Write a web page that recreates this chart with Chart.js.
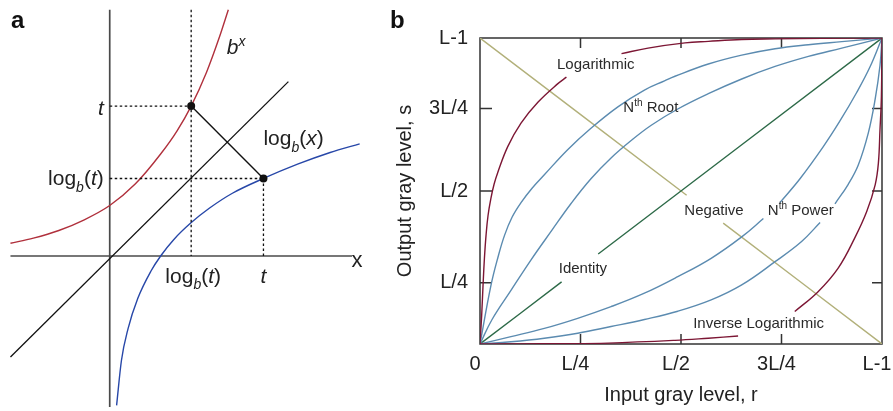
<!DOCTYPE html>
<html>
<head>
<meta charset="utf-8">
<script src="https://cdn.jsdelivr.net/npm/chart.js@4.4.1/dist/chart.umd.min.js"></script>
<style>
  html, body { margin: 0; padding: 0; background: #fff; }
  #wrap { position: relative; width: 893px; height: 411px; }
  #chartA { position: absolute; left: 0; top: 0; }
  #chartB { position: absolute; left: 380px; top: 0; }
</style>
</head>
<body>
<div id="wrap">
  <canvas id="chartA" width="380" height="411"></canvas>
  <canvas id="chartB" width="513" height="411"></canvas>
</div>
<script>
// ---- panel a : b^x and log_b(x), units where b^0 = 1
const expX = [-1.95, -1.5, -1.0, -0.5, 0.0, 0.5, 1.0, 1.32, 1.6, 1.9, 2.15, 2.33];
const expY = [0.25, 0.35, 0.5, 0.71, 0.99, 1.41, 2.0, 2.45, 2.94, 3.6, 4.28, 4.83];
const logX = [0.135, 0.23, 0.359, 0.552, 0.808, 1.0, 1.256, 1.596, 1.962, 2.41, 3.02, 3.69, 4.33, 4.91];
const logY = [-2.93, -2.05, -1.43, -0.83, -0.3, 0.0, 0.32, 0.65, 0.94, 1.23, 1.52, 1.8, 2.03, 2.2];
const identX = [-1.95, 3.51];
const identY = [-1.98, 3.42];
const dotX = [1.6, 3.02];     // (log_b t, t) and (t, log_b t)
const dotY = [2.94, 1.52];
const axisSpanX = [-1.95, 4.76];
const axisSpanY = [-2.96, 4.83];

// ---- panel b : gray level transformations (r, s normalised to 0..1, null = label gap)
const tickLabels = ['0', 'L/4', 'L/2', '3L/4', 'L-1'];
const xTickPos = [0, 0.25, 0.5, 0.75, 1];
const yTickPos = [0, 0.2, 0.5, 0.77, 1];

const negR = [0, 0.514, 0.56, 0.605, 1];
const negS = [1, 0.486, null, 0.395, 0];
const idR = [0, 0.203, 0.25, 0.294, 1];
const idS = [0, 0.203, null, 0.294, 1];
const logTR = [0, 0.004, 0.0075, 0.011, 0.015, 0.02, 0.027, 0.035, 0.044, 0.069, 0.102, 0.144, 0.193, 0.215, 0.28, 0.352, 0.418, 0.51, 0.568, 0.651, 0.734, 0.85, 1];
const logTS = [0, 0.09, 0.19, 0.28, 0.355, 0.42, 0.475, 0.522, 0.56, 0.645, 0.722, 0.79, 0.85, 0.872, null, 0.949, 0.967, 0.984, 0.989, 0.995, 0.997, 0.999, 1];
const invR = [0, 0.1, 0.2, 0.319, 0.485, 0.568, 0.642, 0.7, 0.783, 0.841, 0.891, 0.932, 0.962, 0.983, 0.991, 0.995, 0.9985, 1];
const invS = [0, 0.0005, 0.001, 0.003, 0.012, 0.019, 0.026, null, 0.106, 0.171, 0.248, 0.346, 0.433, 0.52, 0.591, 0.7, 0.809, 1];
const root1R = [0, 0.027, 0.045, 0.061, 0.08, 0.102, 0.13, 0.16, 0.218, 0.276, 0.343, 0.409, 0.459, 0.485, 0.568, 0.651, 0.734, 0.817, 0.9, 1];
const root1S = [0, 0.19, 0.285, 0.355, 0.415, 0.462, 0.51, 0.553, 0.635, 0.705, 0.775, 0.83, 0.86, 0.875, 0.915, 0.944, 0.965, 0.978, 0.988, 1];
const root2R = [0, 0.03, 0.077, 0.127, 0.179, 0.227, 0.276, 0.326, 0.376, 0.426, 0.492, 0.568, 0.651, 0.734, 0.817, 0.9, 1];
const root2S = [0, 0.08, 0.175, 0.275, 0.372, 0.46, 0.54, 0.608, 0.665, 0.715, 0.768, 0.818, 0.866, 0.907, 0.94, 0.967, 1];
const pow1R = [0, 0.077, 0.16, 0.243, 0.326, 0.409, 0.492, 0.575, 0.651, 0.705, 0.725, 0.746, 0.796, 0.854, 0.895, 0.937, 0.97, 1];
const pow1S = [0, 0.024, 0.051, 0.084, 0.122, 0.166, 0.22, 0.28, 0.35, 0.41, null, 0.462, 0.54, 0.645, 0.728, 0.822, 0.905, 1];
const pow2R = [0, 0.077, 0.16, 0.243, 0.326, 0.409, 0.492, 0.575, 0.651, 0.734, 0.8, 0.846, 0.865, 0.883, 0.916, 0.941, 0.966, 0.983, 0.995, 1];
const pow2S = [0, 0.0075, 0.019, 0.035, 0.057, 0.08, 0.107, 0.144, 0.193, 0.269, 0.335, 0.397, null, 0.458, 0.522, 0.585, 0.69, 0.8, 0.91, 1];

const FONT = '"Liberation Sans", Arial, Helvetica, sans-serif';
const toPts = (xs, ys) => xs.map((x, i) => ({ x: x, y: ys[i] }));

// draws text made of pieces: [text, style] where style may hold 'i', 'sub', 'sup'
function drawRich(ctx, parts, x, y, align, size, color) {
  let total = 0;
  const spec = parts.map(function(p) {
    const st = p[1] || '';
    const small = st.indexOf('sub') >= 0 || st.indexOf('sup') >= 0;
    const sz = small ? Math.round(size * 0.68) : size;
    const f = (st.indexOf('i ') >= 0 || st === 'i' ? 'italic ' : '') + sz + 'px ' + FONT;
    ctx.font = f;
    const w = ctx.measureText(p[0]).width;
    total += w;
    let dy = 0;
    if (st.indexOf('sub') >= 0) dy = size * 0.3;
    if (st.indexOf('sup') >= 0) dy = -size * 0.38;
    return { txt: p[0], f: f, w: w, dy: dy };
  });
  let cx = align === 'right' ? x - total : (align === 'center' ? x - total / 2 : x);
  ctx.save();
  ctx.fillStyle = color || '#222';
  ctx.textAlign = 'left';
  ctx.textBaseline = 'alphabetic';
  spec.forEach(function(s) {
    ctx.font = s.f;
    ctx.fillText(s.txt, cx, y + s.dy);
    cx += s.w;
  });
  ctx.restore();
}

function lineSet(data, color, width, dash) {
  return {
    data: data, showLine: true, borderColor: color, borderWidth: width,
    borderDash: dash || [], pointRadius: 0, fill: false, tension: 0
  };
}

// ---------------- panel a ----------------
const textA = {
  id: 'textA',
  afterDatasetsDraw: function(chart) {
    const ctx = chart.ctx;
    const sx = chart.scales.x, sy = chart.scales.y;
    const F = 21;
    ctx.save();
    ctx.font = 'bold 24px ' + FONT;
    ctx.fillStyle = '#111';
    ctx.fillText('a', 11, 28);
    ctx.restore();
    drawRich(ctx, [['b', 'i '], ['x', 'i sup']], sx.getPixelForValue(2.3), sy.getPixelForValue(4.0) + 2, 'left', F);
    drawRich(ctx, [['t', 'i ']], sx.getPixelForValue(0) - 6, sy.getPixelForValue(dotY[0]) + 9, 'right', F);
    drawRich(ctx, [['log'], ['b', 'i sub'], ['('], ['t', 'i '], [')']],
      sx.getPixelForValue(0) - 6, sy.getPixelForValue(dotY[1]) + 7, 'right', F);
    drawRich(ctx, [['log'], ['b', 'i sub'], ['('], ['t', 'i '], [')']],
      sx.getPixelForValue(dotX[0]) + 2, sy.getPixelForValue(0) + 27, 'center', F);
    drawRich(ctx, [['t', 'i ']], sx.getPixelForValue(dotX[1]), sy.getPixelForValue(0) + 27, 'center', F);
    drawRich(ctx, [['log'], ['b', 'i sub'], ['('], ['x', 'i '], [')']],
      sx.getPixelForValue(dotX[1]), sy.getPixelForValue(dotY[1]) - 33, 'left', F);
    drawRich(ctx, [['x']], sx.getPixelForValue(axisSpanX[1]) + 5, sy.getPixelForValue(0) + 11, 'center', 22);
  }
};

new Chart(document.getElementById('chartA').getContext('2d'), {
  type: 'scatter',
  data: {
    datasets: [
      { data: toPts(dotX, dotY), pointRadius: 4, pointBackgroundColor: '#111', pointBorderWidth: 0, showLine: false },
      lineSet(toPts(dotX, dotY), '#111', 1.4),
      lineSet([{ x: dotX[0], y: axisSpanY[1] }, { x: dotX[0], y: 0 }], '#111', 1.3, [2.5, 2.5]),
      lineSet([{ x: 0, y: dotY[0] }, { x: dotX[0], y: dotY[0] }], '#111', 1.3, [2.5, 2.5]),
      lineSet([{ x: 0, y: dotY[1] }, { x: dotX[1], y: dotY[1] }], '#111', 1.3, [2.5, 2.5]),
      lineSet([{ x: dotX[1], y: dotY[1] }, { x: dotX[1], y: 0 }], '#111', 1.3, [2.5, 2.5]),
      Object.assign(lineSet(toPts(expX, expY), '#b0303c', 1.4), { cubicInterpolationMode: 'monotone' }),
      Object.assign(lineSet(toPts(logX, logY), '#2747a8', 1.4), { cubicInterpolationMode: 'monotone' }),
      lineSet(toPts(identX, identY), '#111', 1.3),
      lineSet([{ x: axisSpanX[0], y: 0 }, { x: axisSpanX[1], y: 0 }], '#4a4a4a', 1.7),
      lineSet([{ x: 0, y: axisSpanY[0] }, { x: 0, y: axisSpanY[1] }], '#4a4a4a', 1.7)
    ]
  },
  options: {
    responsive: false,
    animation: false,
    layout: { padding: 0 },
    plugins: { legend: { display: false }, tooltip: { enabled: false } },
    scales: {
      x: { type: 'linear', display: false, min: -2.077, max: 5.231 },
      y: { type: 'linear', display: false, min: -2.962, max: 4.942 }
    }
  },
  plugins: [textA]
});

// ---------------- panel b ----------------
const frameB = {
  id: 'frameB',
  beforeDatasetsDraw: function(chart) {
    const ctx = chart.ctx, a = chart.chartArea;
    const sx = chart.scales.x, sy = chart.scales.y;
    ctx.save();
    ctx.strokeStyle = '#333';
    ctx.lineWidth = 1.5;
    ctx.strokeRect(a.left, a.top, a.right - a.left, a.bottom - a.top);
    ctx.beginPath();
    xTickPos.slice(1, -1).forEach(function(v) {
      const p = sx.getPixelForValue(v);
      ctx.moveTo(p, a.bottom); ctx.lineTo(p, a.bottom - 10);
      ctx.moveTo(p, a.top); ctx.lineTo(p, a.top + 10);
    });
    yTickPos.slice(1, -1).forEach(function(v) {
      const p = sy.getPixelForValue(v);
      ctx.moveTo(a.left, p); ctx.lineTo(a.left + 12, p);
      ctx.moveTo(a.right, p); ctx.lineTo(a.right - 10, p);
    });
    ctx.stroke();
    ctx.restore();
  },
  afterDatasetsDraw: function(chart) {
    const ctx = chart.ctx;
    const sx = chart.scales.x, sy = chart.scales.y;
    const F = 15;
    const at = function(r, s) { return [sx.getPixelForValue(r), sy.getPixelForValue(s) + 5]; };
    ctx.save();
    ctx.font = 'bold 24px ' + FONT;
    ctx.fillStyle = '#111';
    ctx.fillText('b', 10, 28);
    ctx.restore();
    let p;
    p = at(0.288, 0.916); drawRich(ctx, [['Logarithmic']], p[0], p[1], 'center', F, '#2a2a2a');
    p = at(0.425, 0.775); drawRich(ctx, [['N'], ['th', 'sup'], [' Root']], p[0], p[1], 'center', F, '#2a2a2a');
    p = at(0.256, 0.249); drawRich(ctx, [['Identity']], p[0], p[1], 'center', F, '#2a2a2a');
    p = at(0.582, 0.438); drawRich(ctx, [['Negative']], p[0], p[1], 'center', F, '#2a2a2a');
    p = at(0.798, 0.438); drawRich(ctx, [['N'], ['th', 'sup'], [' Power']], p[0], p[1], 'center', F, '#2a2a2a');
    p = at(0.693, 0.07); drawRich(ctx, [['Inverse Logarithmic']], p[0], p[1], 'center', F, '#2a2a2a');
  }
};

function curve(xs, ys, color) {
  return Object.assign(lineSet(toPts(xs, ys), color, 1.4), { tension: 0.4, spanGaps: false });
}

const RED = '#7c1634', BLUE = '#5b8bb0', GREEN = '#2d6a48', OLIVE = '#b2b07a';

new Chart(document.getElementById('chartB').getContext('2d'), {
  type: 'scatter',
  data: {
    datasets: [
      curve(logTR, logTS, RED),
      curve(invR, invS, RED),
      curve(root1R, root1S, BLUE),
      curve(root2R, root2S, BLUE),
      curve(pow1R, pow1S, BLUE),
      curve(pow2R, pow2S, BLUE),
      curve(idR, idS, GREEN),
      curve(negR, negS, OLIVE)
    ]
  },
  options: {
    responsive: false,
    animation: false,
    layout: { padding: { top: 38, right: 11, left: 0, bottom: 0 } },
    plugins: { legend: { display: false }, tooltip: { enabled: false } },
    scales: {
      x: {
        type: 'linear', min: 0, max: 1,
        grid: { display: false, drawTicks: false },
        border: { display: false },
        afterBuildTicks: function(s) { s.ticks = xTickPos.map(function(v) { return { value: v }; }); },
        afterFit: function(s) { s.height = 67; s.paddingLeft = 0; s.paddingRight = 0; },
        ticks: {
          padding: 8, labelOffset: -5, autoSkip: false, maxRotation: 0,
          color: '#222', font: { family: FONT, size: 20 },
          callback: function(v, i) { return tickLabels[i]; }
        },
        title: {
          display: true, text: 'Input gray level, r', color: '#222',
          font: { family: FONT, size: 20 }, padding: { top: 0, bottom: 4 }
        }
      },
      y: {
        type: 'linear', min: 0, max: 1,
        grid: { display: false, drawTicks: false },
        border: { display: false },
        afterBuildTicks: function(s) { s.ticks = yTickPos.map(function(v) { return { value: v }; }); },
        afterFit: function(s) { s.width = 100; s.paddingTop = 0; s.paddingBottom = 0; },
        ticks: {
          padding: 12, autoSkip: false,
          color: '#222', font: { family: FONT, size: 20 },
          callback: function(v, i) { return i === 0 ? null : tickLabels[i]; }
        },
        title: {
          display: true, text: 'Output gray level, s', color: '#222',
          font: { family: FONT, size: 20 }, padding: { top: 13, bottom: 0 }
        }
      }
    }
  },
  plugins: [frameB]
});
</script>
</body>
</html>
